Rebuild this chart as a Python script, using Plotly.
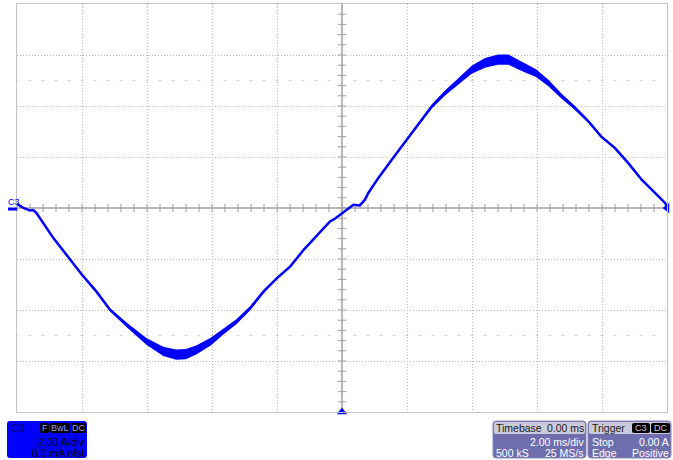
import plotly.graph_objects as go
import numpy as np

# ---- data (time in ms, current in A) ----
time_ms = [-10.0, -9.8, -9.6, -9.5, -9.4, -9.2, -8.88, -8.48, -8.0, -7.56, -7.14, -6.63,
           -6.02, -5.5, -5.1, -4.8, -4.47, -4.03, -3.65, -3.24, -2.82, -2.41, -2.0, -1.59,
           -1.18, -0.78, -0.37, -0.22, 0.0, 0.2, 0.35, 0.55, 0.71, 0.81, 1.12, 1.53, 1.96,
           2.35, 2.76, 3.17, 3.58, 3.99, 4.4, 4.8, 5.12, 5.53, 5.97, 6.35, 6.76, 7.17, 7.58,
           7.97, 8.4, 8.81, 9.22, 9.63, 9.94, 10.0]
current_a = [0.16, 0.0, -0.1, -0.08, -0.2, -0.59, -1.18, -1.83, -2.62, -3.27, -3.99, -4.58,
             -5.23, -5.62, -5.75, -5.73, -5.56, -5.23, -4.84, -4.45, -3.92, -3.27, -2.75, -2.29,
             -1.64, -1.11, -0.53, -0.42, -0.2, 0.0, 0.13, 0.10, 0.33, 0.59, 1.18, 1.89, 2.61,
             3.27, 3.98, 4.51, 4.96, 5.42, 5.69, 5.82, 5.82, 5.55, 5.29, 4.9, 4.38, 3.92, 3.4,
             2.81, 2.35, 1.76, 1.11, 0.59, 0.2, 0.05]
# half-width of the noise band around the trace (A)
spread_a = [0, 0, 0, 0, 0, 0, 0.01, 0.02, 0.03, 0.04, 0.06, 0.09,
            0.13, 0.18, 0.2, 0.2, 0.18, 0.15, 0.12, 0.1, 0.08, 0.06, 0.04, 0.03,
            0.02, 0.01, 0, 0, 0, 0, 0, 0, 0, 0, 0.01, 0.02, 0.04,
            0.06, 0.08, 0.1, 0.13, 0.16, 0.19, 0.2, 0.2, 0.18, 0.15, 0.13, 0.1, 0.08, 0.06,
            0.05, 0.04, 0.03, 0.02, 0.01, 0, 0]

x_tick_vals = [-10, -8, -6, -4, -2, 0, 2, 4, 6, 8, 10]
y_tick_vals = [-8, -6, -4, -2, 0, 2, 4, 6, 8]

W, H = 673, 460
L, R, T, B = 17, 6, 4, 48
PW, PH = W - L - R, H - T - B

def X(px):
    return (px - L) / PW

def Y(py):
    return (T + PH - py) / PH

def rrect(x0, y0, x1, y1, r):
    pts = [
        f"M {X(x0 + r)},{Y(y0)}", f"L {X(x1 - r)},{Y(y0)}",
        f"Q {X(x1)},{Y(y0)} {X(x1)},{Y(y0 + r)}", f"L {X(x1)},{Y(y1 - r)}",
        f"Q {X(x1)},{Y(y1)} {X(x1 - r)},{Y(y1)}", f"L {X(x0 + r)},{Y(y1)}",
        f"Q {X(x0)},{Y(y1)} {X(x0)},{Y(y1 - r)}", f"L {X(x0)},{Y(y0 + r)}",
        f"Q {X(x0)},{Y(y0)} {X(x0 + r)},{Y(y0)}", "Z"]
    return " ".join(pts)

t = np.array(time_ms)
i = np.array(current_a)
s = np.array(spread_a)

fig = go.Figure()

# minor tick marks on the centre axes
minor_x = np.arange(-10, 10.001, 0.4)
minor_y = np.arange(-8, 8.001, 0.4)
fig.add_trace(go.Scatter(x=minor_x, y=[0] * len(minor_x), mode="markers",
                         marker=dict(symbol="line-ns", size=6, line=dict(color="#a0a0a0", width=1)),
                         hoverinfo="skip", showlegend=False))
fig.add_trace(go.Scatter(x=[0] * len(minor_y), y=minor_y, mode="markers",
                         marker=dict(symbol="line-ew", size=6, line=dict(color="#a0a0a0", width=1)),
                         hoverinfo="skip", showlegend=False))
for lvl in (5, -5):
    fig.add_trace(go.Scatter(x=minor_x, y=[lvl] * len(minor_x), mode="markers",
                             marker=dict(symbol="line-ew", size=2, line=dict(color="#cfcfcf", width=1)),
                             hoverinfo="skip", showlegend=False))

# noise band
fig.add_trace(go.Scatter(x=t, y=i + s, mode="lines", line=dict(color="#0000ff", width=0),
                         hoverinfo="skip", showlegend=False))
fig.add_trace(go.Scatter(x=t, y=i - s, mode="lines", line=dict(color="#0000ff", width=0),
                         fill="tonexty", fillcolor="#0000ff", hoverinfo="skip", showlegend=False))
# trace
fig.add_trace(go.Scatter(x=t, y=i, mode="lines", line=dict(color="#0000ff", width=2.5),
                         name="C3", showlegend=False))

# trigger markers
fig.add_trace(go.Scatter(x=[0], y=[-8], mode="markers", cliponaxis=False,
                         marker=dict(symbol="triangle-up", size=9, color="#0000ff"),
                         hoverinfo="skip", showlegend=False))
fig.add_trace(go.Scatter(x=[10], y=[0], mode="markers", cliponaxis=False,
                         marker=dict(symbol="triangle-left", size=9, color="#0000ff"),
                         hoverinfo="skip", showlegend=False))

shapes = []
# centre axes
shapes.append(dict(type="line", xref="x", yref="paper", x0=0, x1=0, y0=0, y1=1,
                   line=dict(color="#a0a0a0", width=1.5), layer="below"))
shapes.append(dict(type="line", xref="paper", yref="y", x0=0, x1=1, y0=0, y1=0,
                   line=dict(color="#a0a0a0", width=1.5), layer="below"))
# channel marker on the left
shapes.append(dict(type="line", xref="paper", yref="paper", x0=X(8), x1=X(17), y0=Y(209), y1=Y(209),
                   line=dict(color="#0000ff", width=3)))

# bottom-left channel box
shapes.append(dict(type="path", xref="paper", yref="paper", path=rrect(7, 421, 87, 458, 3),
                   fillcolor="#0000ff", line=dict(width=0)))
# badges
for bx0, bx1 in [(40, 49), (50, 70), (71, 86)]:
    shapes.append(dict(type="path", xref="paper", yref="paper", path=rrect(bx0, 423, bx1, 433, 2),
                       fillcolor="#000000", line=dict(width=0)))

# timebase box
shapes.append(dict(type="path", xref="paper", yref="paper", path=rrect(493, 421, 586, 458, 3),
                   fillcolor="#6e6eae", line=dict(color="#8a8ab8", width=1)))
shapes.append(dict(type="path", xref="paper", yref="paper", path=rrect(494, 422, 585, 434, 2),
                   fillcolor="#cacadc", line=dict(width=0)))
# trigger box
shapes.append(dict(type="path", xref="paper", yref="paper", path=rrect(588, 421, 671, 458, 3),
                   fillcolor="#6e6eae", line=dict(color="#8a8ab8", width=1)))
shapes.append(dict(type="path", xref="paper", yref="paper", path=rrect(589, 422, 670, 434, 2),
                   fillcolor="#cacadc", line=dict(width=0)))
for bx0, bx1 in [(632, 650), (651, 670)]:
    shapes.append(dict(type="path", xref="paper", yref="paper", path=rrect(bx0, 423, bx1, 433, 2),
                       fillcolor="#000000", line=dict(width=0)))

FONT = "Liberation Sans, Arial, sans-serif"

def txt(text, px, py, anchor, color, size=10.5):
    return dict(text=text, xref="paper", yref="paper", x=X(px), y=Y(py), xanchor=anchor,
                yanchor="middle", showarrow=False, font=dict(family=FONT, size=size, color=color))

ann = [
    txt("C3", 6, 202, "left", "#0000ff", 9),
    txt("C3", 9, 428, "left", "#000066", 10.5),
    txt("F", 44.5, 428, "center", "#9a9aff", 9),
    txt("BwL", 60, 428, "center", "#9a9aff", 9),
    txt("DC", 78.5, 428, "center", "#9a9aff", 9),
    txt("2.00 A/div", 87, 442, "right", "#000000"),
    txt("0.0 mA ofst", 87, 453, "right", "#000000"),
    txt("Timebase", 494, 428, "left", "#202020"),
    txt("0.00 ms", 586, 428, "right", "#202020"),
    txt("2.00 ms/div", 586, 442, "right", "#ffffff"),
    txt("500 kS", 494, 453, "left", "#ffffff"),
    txt("25 MS/s", 586, 453, "right", "#ffffff"),
    txt("Trigger", 590, 428, "left", "#202020"),
    txt("C3", 641, 428, "center", "#c8c8c8", 9),
    txt("DC", 660.5, 428, "center", "#c8c8c8", 9),
    txt("Stop", 590, 442, "left", "#ffffff"),
    txt("0.00 A", 671, 442, "right", "#ffffff"),
    txt("Edge", 590, 453, "left", "#ffffff"),
    txt("Positive", 671, 453, "right", "#ffffff"),
]

fig.update_layout(
    width=W, height=H, margin=dict(l=L, r=R, t=T, b=B, pad=0),
    paper_bgcolor="#ffffff", plot_bgcolor="#ffffff",
    shapes=shapes, annotations=ann, showlegend=False,
    xaxis=dict(range=[-10, 10], tickvals=x_tick_vals, showticklabels=False, ticks="",
               showgrid=True, gridcolor="#b8b8b8", griddash="1px,2px", gridwidth=1,
               zeroline=False, showline=True, linecolor="#c4c4c4", linewidth=1, mirror=True,
               fixedrange=True),
    yaxis=dict(range=[-8, 8], tickvals=y_tick_vals, showticklabels=False, ticks="",
               showgrid=True, gridcolor="#b8b8b8", griddash="1px,2px", gridwidth=1,
               zeroline=False, showline=True, linecolor="#c4c4c4", linewidth=1, mirror=True,
               fixedrange=True),
)

fig.write_html("out.html", config={"displayModeBar": False},
               post_script="document.body.style.margin='0';document.body.style.overflow='hidden';")
